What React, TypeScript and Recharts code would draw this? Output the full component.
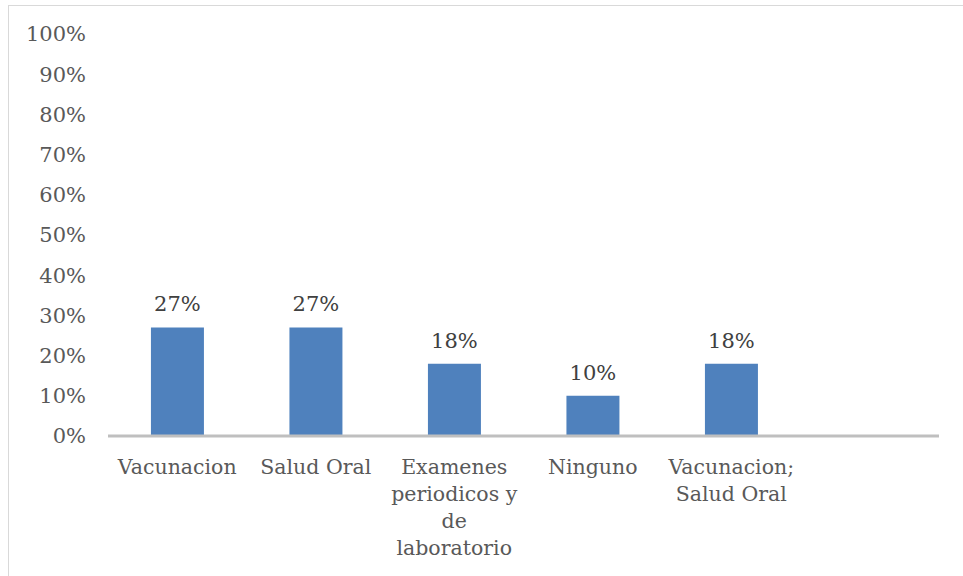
import React from "react";
import { BarChart, Bar, XAxis, YAxis, LabelList } from "recharts";

const categories = ["Vacunacion", "Salud Oral", "Examenes periodicos y de laboratorio", "Ninguno", "Vacunacion; Salud Oral", ""];
const categoryLines = [["Vacunacion"], ["Salud Oral"], ["Examenes", "periodicos y", "de", "laboratorio"], ["Ninguno"], ["Vacunacion;", "Salud Oral"], []];
const values: (number | null)[] = [0.27, 0.27, 0.18, 0.1, 0.18, null];
const yTicks = [0, 0.1, 0.2, 0.3, 0.4, 0.5, 0.6, 0.7, 0.8, 0.9, 1];

const data = categories.map((c, i) => ({ name: c, value: values[i], idx: i }));

const FONT = "'DejaVu Serif', serif";
const pct = (v: number) => `${Math.round(v * 100)}%`;

const XTick = (props: any) => {
  const { x, y, index } = props;
  const lines = categoryLines[index] || [];
  return (
    <g>
      {lines.map((l, i) => (
        <text key={i} x={x} y={y + 38 + i * 27} textAnchor="middle" fill="#595959" fontSize={20.5} fontFamily={FONT}>
          {l}
        </text>
      ))}
    </g>
  );
};

export default function App() {
  return (
    <div style={{ position: "absolute", left: 0, top: 0, width: 963, height: 576, background: "#fff", overflow: "hidden" }}>
      <div style={{ position: "absolute", left: 8, top: 5, width: 1000, height: 700, border: "1px solid #d9d9d9", boxSizing: "border-box" }} />
      <div style={{ position: "absolute", left: 0, top: 0 }}>
        <BarChart width={963} height={576} data={data} margin={{ top: 34, right: 24, left: 0, bottom: 0 }} barCategoryGap="31%">
          <XAxis dataKey="name" interval={0} tickLine={false} axisLine={{ stroke: "#bfbfbf", strokeWidth: 3 }} height={140} tick={<XTick />} tickSize={0} tickMargin={0} />
          <YAxis domain={[0, 1]} ticks={yTicks} tickFormatter={pct} width={108} axisLine={false} tickLine={false} tickSize={0} tickMargin={22} tick={{ fill: "#595959", fontSize: 21, fontFamily: FONT }} />
          <Bar dataKey="value" fill="#4F81BD" isAnimationActive={false}>
            <LabelList dataKey="value" position="top" offset={16} formatter={(v: any) => (v == null ? "" : pct(v))} style={{ fill: "#404040", fontSize: 21, fontFamily: FONT }} />
          </Bar>
        </BarChart>
      </div>
    </div>
  );
}
